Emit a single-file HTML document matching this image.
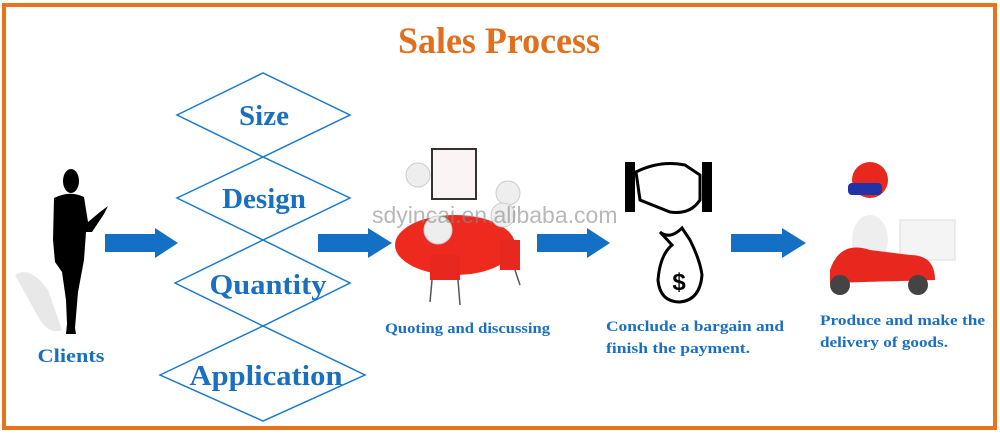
<!DOCTYPE html>
<html><head><meta charset="utf-8"><style>
html,body{margin:0;padding:0;background:#fff;width:1000px;height:434px;overflow:hidden}
</style></head><body>
<svg width="1000" height="434" viewBox="0 0 1000 434" xmlns="http://www.w3.org/2000/svg">
<rect x="0" y="0" width="1000" height="434" fill="#fff"/>
<rect x="4" y="5" width="991" height="423" fill="none" stroke="#e8731a" stroke-width="4"/>
<text x="499" y="53" text-anchor="middle" font-family="Liberation Serif,serif" font-weight="bold" font-size="37" fill="#e0701e" textLength="202" lengthAdjust="spacingAndGlyphs">Sales Process</text>

<g fill="none" stroke="#1a7acc" stroke-width="1.5">
<polygon points="177,115 263,73 350,115 263,157"/>
<polygon points="177,198 263,157 350,198 263,240"/>
<polygon points="175,283 263,240 350,283 263,326"/>
<polygon points="160,375 263,326 365,375 263,421"/>
</g>
<g font-family="Liberation Serif,serif" font-weight="bold" fill="#1a70c0" text-anchor="middle">
<text x="264" y="125" font-size="29">Size</text>
<text x="264" y="208" font-size="29">Design</text>
<text x="268" y="294" font-size="29" textLength="117" lengthAdjust="spacingAndGlyphs">Quantity</text>
<text x="266" y="385" font-size="29" textLength="153" lengthAdjust="spacingAndGlyphs">Application</text>
</g>

<g fill="#1470c4">
<polygon points="105,234 155,234 155,228 178,243 155,258 155,252 105,252"/>
<polygon points="318,234 368,234 368,228 392,243 368,258 368,252 318,252"/>
<polygon points="537,234 587,234 587,228 610,243 587,258 587,252 537,252"/>
<polygon points="731,234 782,234 782,228 806,243 782,258 782,252 731,252"/>
</g>

<path d="M15,275 Q30,265 48,290 L62,330 Q50,335 40,320 Z" fill="#e8e8e8"/>
<g fill="#000">
<ellipse cx="71" cy="181" rx="8" ry="12"/>
<path d="M54,198 Q70,190 84,197 L88,222 L100,212 L108,206 L104,214 L92,232 L86,232 L84,260 L78,292 L75,328 L76,334 L66,334 L67,324 L66,300 L62,272 L55,262 L53,240 Z"/>
</g>
<text x="71" y="362" text-anchor="middle" font-family="Liberation Serif,serif" font-weight="bold" font-size="19" fill="#1a70c0" textLength="67" lengthAdjust="spacingAndGlyphs">Clients</text>

<rect x="432" y="149" width="44" height="50" fill="#fbf4f4" stroke="#333" stroke-width="2"/>
<ellipse cx="455" cy="245" rx="60" ry="30" fill="#ee2a1f"/>
<circle cx="418" cy="175" r="12" fill="#eee" stroke="#ccc"/>
<circle cx="508" cy="193" r="12" fill="#eee" stroke="#ccc"/>
<circle cx="503" cy="215" r="12" fill="#eee" stroke="#ccc"/>
<circle cx="438" cy="230" r="14" fill="#eee" stroke="#ccc"/>
<rect x="430" y="255" width="30" height="25" fill="#e8281f"/>
<rect x="500" y="240" width="20" height="30" fill="#e8281f"/>
<g stroke="#555" stroke-width="1.5"><line x1="432" y1="280" x2="430" y2="302"/><line x1="458" y1="280" x2="460" y2="305"/><line x1="515" y1="270" x2="520" y2="285"/></g>
<text x="385" y="333" font-family="Liberation Serif,serif" font-weight="bold" font-size="15" fill="#1a70c0" textLength="165" lengthAdjust="spacingAndGlyphs">Quoting and discussing</text>

<rect x="625" y="162" width="10" height="50" fill="#000"/>
<rect x="702" y="162" width="10" height="50" fill="#000"/>
<path d="M636,172 Q660,160 685,165 L700,175 L700,200 Q690,215 670,212 L640,200 Z" fill="#fff" stroke="#000" stroke-width="3"/>
<path d="M660,232 Q670,240 682,228 L690,240 Q700,260 702,275 Q700,300 680,302 Q660,302 658,280 Q660,255 672,245 Z" fill="#fff" stroke="#000" stroke-width="3"/>
<text x="679" y="290" text-anchor="middle" font-family="Liberation Sans,sans-serif" font-weight="bold" font-size="24" fill="#000">$</text>
<text x="606" y="331" font-family="Liberation Serif,serif" font-weight="bold" font-size="15" fill="#1a70c0" textLength="178" lengthAdjust="spacingAndGlyphs">Conclude a bargain and</text>
<text x="606" y="353" font-family="Liberation Serif,serif" font-weight="bold" font-size="15" fill="#1a70c0" textLength="144" lengthAdjust="spacingAndGlyphs">finish the payment.</text>

<circle cx="870" cy="180" r="18" fill="#e8281f"/>
<rect x="848" y="183" width="34" height="12" rx="4" fill="#2233aa"/>
<rect x="900" y="220" width="55" height="40" fill="#f4f4f4" stroke="#ddd"/>
<ellipse cx="870" cy="240" rx="18" ry="25" fill="#eee"/>
<path d="M830,270 Q840,240 870,250 L910,255 Q935,255 935,280 L830,283 Z" fill="#e8281f"/>
<circle cx="840" cy="285" r="10" fill="#444"/>
<circle cx="918" cy="285" r="10" fill="#444"/>
<text x="820" y="325" font-family="Liberation Serif,serif" font-weight="bold" font-size="15" fill="#1a70c0" textLength="165" lengthAdjust="spacingAndGlyphs">Produce and make the</text>
<text x="820" y="347" font-family="Liberation Serif,serif" font-weight="bold" font-size="15" fill="#1a70c0" textLength="128" lengthAdjust="spacingAndGlyphs">delivery of goods.</text>

<text x="372" y="223" font-family="Liberation Sans,sans-serif" font-size="23" fill="#888" fill-opacity="0.6">sdyincai.en.alibaba.com</text>
</svg>
</body></html>
